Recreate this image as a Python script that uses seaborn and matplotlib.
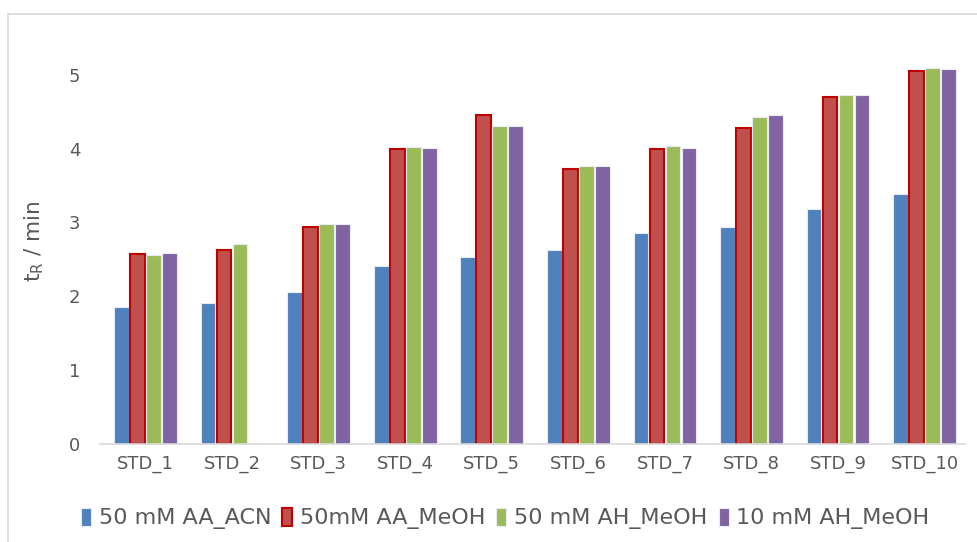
import pandas as pd
import numpy as np
import matplotlib
matplotlib.use('Agg')
import matplotlib.pyplot as plt
import seaborn as sns
from matplotlib.patches import Patch

samples = ['STD_1', 'STD_2', 'STD_3', 'STD_4', 'STD_5', 'STD_6', 'STD_7', 'STD_8', 'STD_9', 'STD_10']
series = ['50 mM AA_ACN', '50mM AA_MeOH', '50 mM AH_MeOH', '10 mM AH_MeOH']
aa_acn = [1.86, 1.91, 2.06, 2.41, 2.53, 2.63, 2.86, 2.94, 3.18, 3.39]
aa_meoh = [2.57, 2.63, 2.94, 4.00, 4.46, 3.73, 4.00, 4.28, 4.70, 5.05]
ah_meoh_50 = [2.56, 2.71, 2.98, 4.02, 4.31, 3.77, 4.04, 4.43, 4.73, 5.09]
ah_meoh_10 = [2.59, np.nan, 2.98, 4.01, 4.31, 3.77, 4.01, 4.46, 4.73, 5.08]
colors = ['#4F81BD', '#C0504D', '#9BBB59', '#8064A2']

df = pd.DataFrame({'sample': samples * 4,
                   'series': np.repeat(series, len(samples)),
                   'tR': aa_acn + aa_meoh + ah_meoh_50 + ah_meoh_10})

sns.set_style('white')
plt.rcParams['font.family'] = ['DejaVu Sans']
fig = plt.figure(figsize=(9.77, 5.42), dpi=100)
ax = fig.add_axes([0.102, 0.181, 0.886, 0.749])

sns.barplot(data=df, x='sample', y='tR', hue='series', hue_order=series,
            order=samples, palette=colors, width=0.74, gap=0.08,
            saturation=1, errorbar=None, legend=False, ax=ax)

for i, cont in enumerate(ax.containers):
    for p in cont:
        if i == 1:
            p.set_edgecolor('#C00000')
            p.set_linewidth(1.5)
        else:
            p.set_edgecolor('#E8ECF4')
            p.set_linewidth(0.8)

ax.set_ylim(0, 5.5)
ax.set_yticks([0, 1, 2, 3, 4, 5])
ax.set_xlim(-0.53, 9.47)
ax.tick_params(axis='both', length=0, labelsize=13, colors='#595959')
ax.tick_params(axis='x', pad=8)
ax.tick_params(axis='y', pad=14)
ax.set_xlabel('')
ax.set_ylabel(r'$\mathregular{t_R}$ / min', fontsize=15.5, color='#595959', labelpad=16)
for s in ['top', 'right', 'left']:
    ax.spines[s].set_visible(False)
ax.spines['bottom'].set_color('#D9D9D9')
ax.spines['bottom'].set_linewidth(1.2)

handles = [Patch(facecolor=c, edgecolor=('#C00000' if k == 1 else '#E8ECF4'),
                 linewidth=(1.5 if k == 1 else 0.8)) for k, c in enumerate(colors)]
fig.legend(handles, series, loc='center', bbox_to_anchor=(0.517, 0.043), ncol=4,
           frameon=False, fontsize=16, handlelength=0.45, handleheight=0.85,
           handletextpad=0.35, columnspacing=0.5, labelcolor='#595959')

# outer chart frame (cropped on the right and bottom)
fig.add_artist(plt.Line2D([8 / 977, 8 / 977], [0, 1 - 14 / 542], transform=fig.transFigure,
                          color='#D9D9D9', lw=1.2))
fig.add_artist(plt.Line2D([8 / 977, 1], [1 - 14 / 542, 1 - 14 / 542], transform=fig.transFigure,
                          color='#D9D9D9', lw=1.2))

fig.savefig('out.png', dpi=100, facecolor='white')
